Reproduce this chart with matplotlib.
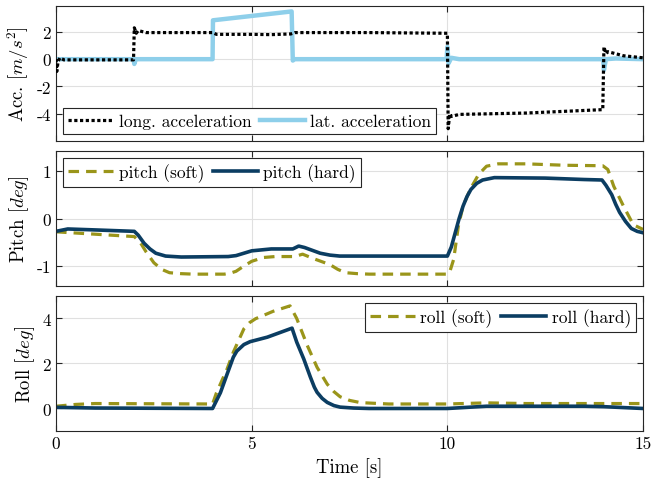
import matplotlib
matplotlib.use('Agg')
from matplotlib import pyplot as plt

plt.rcParams['font.family'] = 'serif'
plt.rcParams['font.serif'] = ['cmr10', 'DejaVu Serif']
plt.rcParams['mathtext.fontset'] = 'cm'
plt.rcParams['axes.unicode_minus'] = False
plt.rcParams['axes.formatter.use_mathtext'] = False

# longitudinal / lateral acceleration [m/s^2]
t_long = [0, 0.02, 0.05, 0.1, 0.2, 1.98, 2.0, 2.05, 2.1, 2.3, 4.0, 4.1, 5.0, 5.5, 6.0, 6.1, 8.0,
          10.0, 10.02, 10.06, 10.1, 10.3, 12.0, 13.97, 14.0, 14.05, 14.1, 14.5, 15.0]
a_long = [0, -0.9, -0.2, 0.1, -0.05, -0.05, 2.3, 1.9, 2.1, 1.95, 1.95, 1.82, 1.82, 1.8, 1.85, 1.95, 1.95,
          1.9, -5.1, -4.0, -4.2, -4.05, -3.95, -3.7, 0.9, 0.4, 0.55, 0.25, 0.1]
t_lat = [0, 1.98, 2.0, 2.04, 4.0, 4.01, 6.02, 6.05, 6.1, 9.98, 10.0, 10.03, 10.1, 10.3, 13.98, 14.0, 14.05, 14.3, 15.0]
a_lat = [0, 0, -0.35, 0, 0, 2.85, 3.5, -0.1, 0, 0, 0.9, -0.3, 0.1, 0, 0, -0.8, 0, 0.05, 0]

# pitch [deg]
t_ph = [0, 0.3, 1.0, 2.0, 2.1, 2.25, 2.4, 2.55, 2.8, 3.2, 4.4, 4.6, 4.8, 5.0, 5.5, 6.05, 6.2, 6.35, 6.55,
        6.75, 7.0, 7.25, 8.0, 10.0, 10.1, 10.2, 10.3, 10.4, 10.5, 10.6, 10.75, 10.9, 11.2, 12.5, 13.5,
        13.95, 14.05, 14.2, 14.3, 14.4, 14.55, 14.7, 14.85, 15.0]
p_hard = [-0.27, -0.22, -0.24, -0.27, -0.35, -0.52, -0.64, -0.73, -0.79, -0.81, -0.8, -0.78, -0.73, -0.68,
          -0.64, -0.64, -0.58, -0.61, -0.67, -0.73, -0.77, -0.79, -0.79, -0.79, -0.6, -0.3, 0.0, 0.26, 0.46,
          0.61, 0.74, 0.81, 0.86, 0.85, 0.82, 0.81, 0.7, 0.5, 0.3, 0.13, -0.06, -0.21, -0.27, -0.3]
t_ps = [0, 1.0, 2.0, 2.15, 2.3, 2.5, 2.7, 2.9, 3.2, 3.5, 4.3, 4.45, 4.6, 4.8, 5.0, 5.3, 5.6, 6.1, 6.3, 6.6,
        7.0, 7.2, 7.4, 7.7, 8.0, 10.0, 10.05, 10.16, 10.28, 10.4, 10.58, 10.8, 11.0, 11.3, 12.0, 13.0,
        13.97, 14.1, 14.25, 14.5, 14.75, 15.0]
p_soft = [-0.28, -0.33, -0.38, -0.5, -0.7, -0.93, -1.07, -1.14, -1.16, -1.17, -1.17, -1.15, -1.11, -1.0,
          -0.9, -0.82, -0.8, -0.8, -0.75, -0.85, -0.97, -1.07, -1.14, -1.16, -1.17, -1.17, -1.15, -0.86,
          -0.16, 0.26, 0.61, 0.93, 1.10, 1.15, 1.15, 1.12, 1.11, 1.03, 0.68, 0.26, -0.13, -0.23]

# roll [deg]
t_rh = [0, 1, 4.0, 4.2, 4.37, 4.53, 4.62, 4.7, 4.8, 4.96, 5.4, 6.03, 6.15, 6.33, 6.5, 6.6, 6.67, 6.8,
        6.93, 7.1, 7.26, 7.6, 8, 10, 10.5, 11, 13.5, 14, 15]
r_hard = [0.05, 0.02, 0.0, 0.7, 1.52, 2.28, 2.55, 2.68, 2.84, 2.97, 3.17, 3.57, 2.95, 2.2, 1.39, 0.95,
          0.72, 0.45, 0.27, 0.13, 0.06, 0.02, 0.0, 0.0, 0.05, 0.1, 0.1, 0.08, 0.0]
t_rs = [0, 0.5, 1, 4.0, 4.1, 4.37, 4.53, 4.8, 4.95, 5.1, 5.55, 5.98, 6.15, 6.42, 6.67, 6.93, 7.1, 7.26,
        7.5, 7.78, 8.5, 10, 11, 12, 15]
r_soft = [0.1, 0.18, 0.22, 0.2, 0.7, 1.75, 2.5, 3.54, 3.82, 3.99, 4.32, 4.56, 4.0, 2.8, 1.83, 1.08, 0.75,
          0.52, 0.36, 0.26, 0.2, 0.2, 0.25, 0.22, 0.22]

navy = '#0b3d62'
olive = '#9a951a'
sky = '#8ecfea'

fig = plt.figure(figsize=(6.53, 4.85), dpi=100)
ax1 = fig.add_axes([0.0858, 0.7072, 0.899, 0.2784])
ax2 = fig.add_axes([0.0858, 0.4082, 0.899, 0.2784])
ax3 = fig.add_axes([0.0858, 0.1093, 0.899, 0.2784])

ax1.plot(t_long, a_long, color='black', lw=2.3, linestyle=(0, (1, 0.8)), label='long. acceleration', zorder=3)
ax1.plot(t_lat, a_lat, color=sky, lw=3.2, label='lat. acceleration', zorder=2)
ax1.set_ylim(-6, 3.9)
ax1.set_yticks([-4, -2, 0, 2])
ax1.set_ylabel('Acc. $[m/s^2]$')

ax2.plot(t_ps, p_soft, color=olive, lw=2.3, linestyle=(0, (3.3, 2.2)), label='pitch (soft)')
ax2.plot(t_ph, p_hard, color=navy, lw=2.6, label='pitch (hard)')
ax2.set_ylim(-1.42, 1.42)
ax2.set_yticks([-1, 0, 1])
ax2.set_ylabel('Pitch $[deg]$')

ax3.plot(t_rs, r_soft, color=olive, lw=2.3, linestyle=(0, (3.3, 2.2)), label='roll (soft)')
ax3.plot(t_rh, r_hard, color=navy, lw=2.6, label='roll (hard)')
ax3.set_ylim(-1, 5)
ax3.set_yticks([0, 2, 4])
ax3.set_ylabel('Roll $[deg]$')
ax3.set_xlabel('Time [s]')

for ax in [ax1, ax2, ax3]:
    ax.set_xlim(0, 15)
    ax.set_xticks([0, 5, 10, 15])
    ax.grid(True, color='#e0e0e0', lw=0.8)
    ax.set_axisbelow(True)
    ax.tick_params(direction='in', top=True, right=True, labelsize=12.5, color='#262626', length=4)
    ax.yaxis.label.set_size(13.5)
    for s in ax.spines.values():
        s.set_color('#262626')
        s.set_linewidth(0.8)
ax1.set_xticklabels([])
ax2.set_xticklabels([])
ax3.xaxis.label.set_size(13.5)

leg_kw = dict(ncol=2, fontsize=12.5, fancybox=False, edgecolor='#262626', framealpha=1,
              handlelength=2.6, columnspacing=0.5, handletextpad=0.3, borderpad=0.3, borderaxespad=0.4)
l1 = ax1.legend(loc='lower left', **leg_kw)
l2 = ax2.legend(loc='upper left', **leg_kw)
l3 = ax3.legend(loc='upper right', **leg_kw)
for l in [l1, l2, l3]:
    l.get_frame().set_linewidth(0.8)

fig.savefig('out.png', dpi=100)
